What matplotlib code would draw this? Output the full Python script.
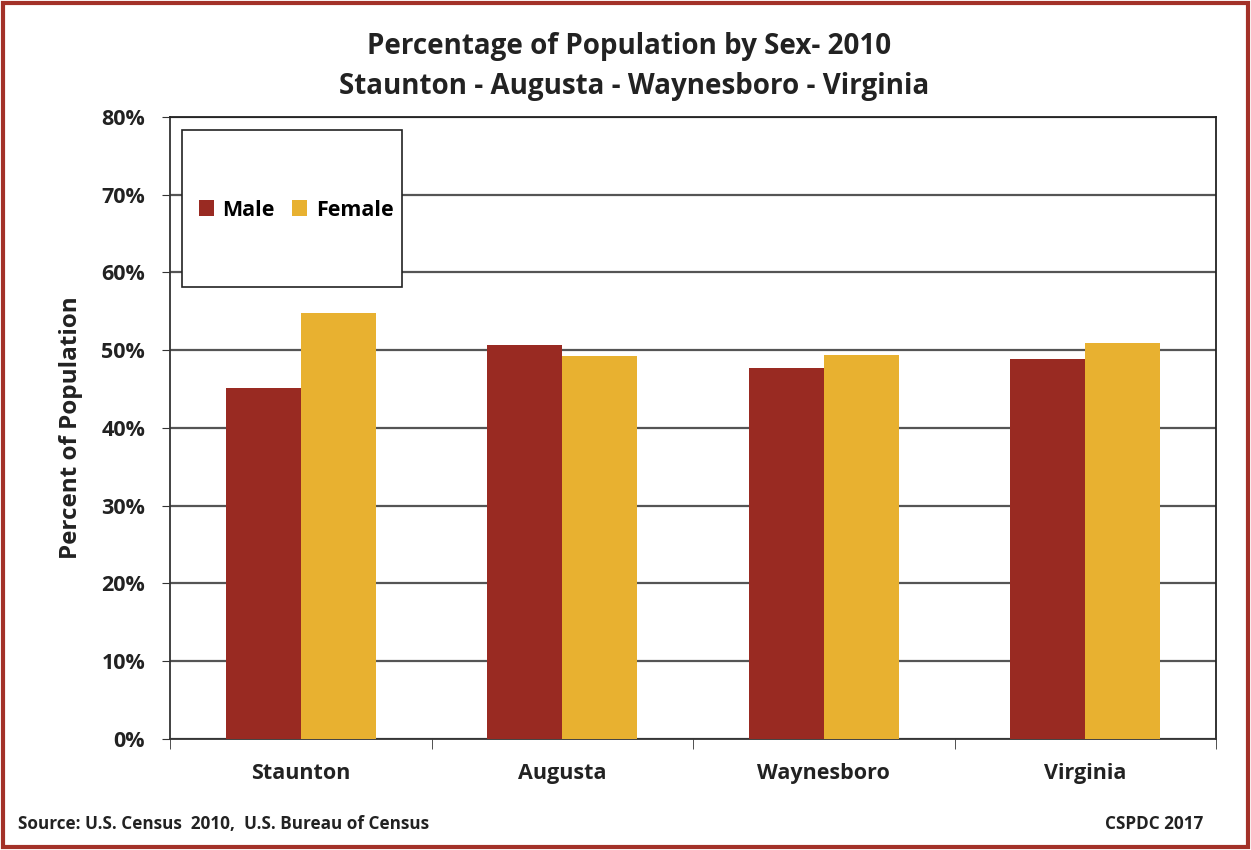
import numpy as np
import matplotlib.pyplot as plt
from matplotlib.patches import Rectangle
from matplotlib.ticker import FuncFormatter

places = ['Staunton', 'Augusta', 'Waynesboro', 'Virginia']
male = [45.1, 50.7, 47.7, 48.9]
female = [54.8, 49.2, 49.4, 50.9]

male_color = '#992a22'
female_color = '#e8b130'

plt.rcParams['font.family'] = ['Open Sans', 'DejaVu Sans']

fig = plt.figure(figsize=(12.51, 8.5), dpi=100)
ax = fig.add_axes([0.136, 0.1306, 0.836, 0.7318])

x = np.arange(len(places))
w = 0.287
ax.bar(x - w / 2, male, w, color=male_color, label='Male', zorder=3)
ax.bar(x + w / 2, female, w, color=female_color, label='Female', zorder=3)

ax.set_xlim(-0.5, len(places) - 0.5)
ax.set_ylim(0, 80)
ax.set_yticks(np.arange(0, 81, 10))
ax.yaxis.set_major_formatter(FuncFormatter(lambda v, p: '{:.0f}%'.format(v)))
ax.grid(axis='y', color='#555555', linewidth=1.6, zorder=0)

ax.set_xticks(x)
ax.set_xticklabels(places, fontsize=15.5, fontweight='bold', color='#222222')
ax.set_xticks(np.arange(-0.5, len(places), 1), minor=True)
ax.tick_params(axis='x', which='major', length=0, pad=17)
ax.tick_params(axis='x', which='minor', length=7, direction='out', color='#333333')
ax.tick_params(axis='y', labelsize=15.5, length=6, pad=12, direction='out', color='#333333',
               labelcolor='#222222')
for lbl in ax.get_yticklabels():
    lbl.set_fontweight('bold')

for side in ['left', 'bottom']:
    ax.spines[side].set_color('#333333')
    ax.spines[side].set_linewidth(1.3)
for side in ['top', 'right']:
    ax.spines[side].set_color('#222222')
    ax.spines[side].set_linewidth(1.3)

ax.set_ylabel('Percent of Population', fontsize=17.5, fontweight='bold', color='#222222', labelpad=13)

fig.text(0.503, 0.945, 'Percentage of Population by Sex- 2010', ha='center', va='center',
         fontsize=20, fontweight='bold', color='#222222')
fig.text(0.507, 0.898, 'Staunton - Augusta - Waynesboro - Virginia', ha='center', va='center',
         fontsize=20, fontweight='bold', color='#222222')

# legend sits in a taller white box
fig.patches.append(Rectangle((182 / 1251, 1 - 287 / 850), 220 / 1251, 157 / 850,
                             transform=fig.transFigure, facecolor='white',
                             edgecolor='#222222', linewidth=1.2, zorder=5))
leg = fig.legend(loc='center', bbox_to_anchor=(296 / 1251, 1 - 210 / 850), ncol=2,
                 frameon=False, prop={'size': 15.5, 'weight': 'bold'},
                 handlelength=0.7, handleheight=0.7, handletextpad=0.4, columnspacing=0.8)
leg.set_zorder(6)

fig.text(0.014, 0.031, 'Source: U.S. Census  2010,  U.S. Bureau of Census', fontsize=12.3,
         fontweight='bold', color='#222222', va='center')
fig.text(0.962, 0.031, 'CSPDC 2017', fontsize=12.3, fontweight='bold', color='#222222',
         va='center', ha='right')

fig.patches.append(Rectangle((0.002, 0.003), 0.996, 0.994, transform=fig.transFigure,
                             facecolor='none', edgecolor='#a33128', linewidth=3, zorder=10))

fig.savefig('out.png', dpi=100)
